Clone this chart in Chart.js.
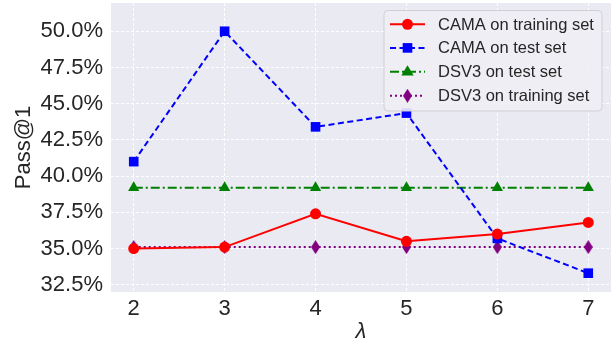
<!DOCTYPE html>
<html>
<head>
<meta charset="utf-8">
<script src="https://cdn.jsdelivr.net/npm/chart.js@4.4.1/dist/chart.umd.min.js"></script>
<style>
  html, body { margin: 0; padding: 0; background: #ffffff; }
  #wrap { width: 613px; height: 346px; position: relative; }
</style>
</head>
<body>
<div id="wrap"><canvas id="c" width="613" height="346"></canvas></div>
<script>
const categories = [2, 3, 4, 5, 6, 7];
const camaTrain = [35.0, 35.1, 37.4, 35.5, 36.0, 36.8];
const camaTest  = [41.0, 50.0, 43.4, 44.35, 35.7, 33.3];
const dsv3Test  = [39.2, 39.2, 39.2, 39.2, 39.2, 39.2];
const dsv3Train = [35.1, 35.1, 35.1, 35.1, 35.1, 35.1];
const yTicks = [32.5, 35.0, 37.5, 40.0, 42.5, 45.0, 47.5, 50.0];
const seriesNames = ['CAMA on training set', 'CAMA on test set', 'DSV3 on test set', 'DSV3 on training set'];

const FONT = "'Liberation Sans', Arial, sans-serif";
const TXT = '#262626';

function thinDiamond(color, w, h) {
  const c = document.createElement('canvas');
  c.width = w; c.height = h;
  const g = c.getContext('2d');
  g.fillStyle = color;
  g.beginPath();
  g.moveTo(w / 2, 0);
  g.lineTo(w, h / 2);
  g.lineTo(w / 2, h);
  g.lineTo(0, h / 2);
  g.closePath();
  g.fill();
  return c;
}
const diamond = thinDiamond('#800080', 9, 14);

function pts(arr) { return categories.map((x, i) => ({ x: x, y: arr[i] })); }

const datasets = [
  { label: seriesNames[0], data: pts(camaTrain), borderColor: '#ff0000', backgroundColor: '#ff0000',
    borderWidth: 2, pointStyle: 'circle', pointRadius: 5.5, borderDash: [] },
  { label: seriesNames[1], data: pts(camaTest), borderColor: '#0000ff', backgroundColor: '#0000ff',
    borderWidth: 2, pointStyle: 'rect', pointRadius: 6.8, borderDash: [6, 3.5] },
  { label: seriesNames[2], data: pts(dsv3Test), borderColor: '#008000', backgroundColor: '#008000',
    borderWidth: 2, pointStyle: 'triangle', pointRadius: 6.5, borderDash: [9, 3, 2, 3] },
  { label: seriesNames[3], data: pts(dsv3Train), borderColor: '#800080', backgroundColor: '#800080',
    borderWidth: 2, pointStyle: diamond, pointRadius: 6, borderDash: [2, 3] }
];
datasets.forEach(d => { d.fill = false; d.tension = 0; d.pointBorderWidth = 0; d.pointHoverRadius = d.pointRadius; d.clip = 8; });

const bgPlugin = {
  id: 'bg',
  beforeDraw(chart) {
    const { ctx, chartArea: a } = chart;
    ctx.save();
    ctx.fillStyle = '#eaeaf2';
    ctx.fillRect(a.left, a.top, a.right - a.left, a.bottom - a.top);
    ctx.restore();
  }
};

function drawMarker(ctx, ds, x, y) {
  ctx.save();
  ctx.fillStyle = ds.backgroundColor;
  const r = ds.pointRadius;
  if (ds.pointStyle === 'circle') {
    ctx.beginPath(); ctx.arc(x, y, r, 0, Math.PI * 2); ctx.fill();
  } else if (ds.pointStyle === 'rect') {
    const s = r * Math.SQRT2 * 0.5;
    ctx.fillRect(x - s, y - s, 2 * s, 2 * s);
  } else if (ds.pointStyle === 'triangle') {
    ctx.beginPath();
    ctx.moveTo(x, y - r);
    ctx.lineTo(x + r * 0.95, y + r * 0.6);
    ctx.lineTo(x - r * 0.95, y + r * 0.6);
    ctx.closePath(); ctx.fill();
  } else {
    ctx.drawImage(ds.pointStyle, x - ds.pointStyle.width / 2, y - ds.pointStyle.height / 2);
  }
  ctx.restore();
}

const legendPlugin = {
  id: 'mylegend',
  afterDraw(chart) {
    const ctx = chart.ctx;
    const bx = 384, by = 10.5, bw = 218, bh = 100.5, rad = 4;
    ctx.save();
    ctx.beginPath();
    ctx.moveTo(bx + rad, by);
    ctx.arcTo(bx + bw, by, bx + bw, by + bh, rad);
    ctx.arcTo(bx + bw, by + bh, bx, by + bh, rad);
    ctx.arcTo(bx, by + bh, bx, by, rad);
    ctx.arcTo(bx, by, bx + bw, by, rad);
    ctx.closePath();
    ctx.fillStyle = 'rgba(238,238,244,0.9)';
    ctx.fill();
    ctx.strokeStyle = '#cfcfd4';
    ctx.lineWidth = 1;
    ctx.stroke();
    const rows = [24.3, 47.9, 71.7, 95.8];
    chart.data.datasets.forEach((ds, i) => {
      const y = rows[i];
      ctx.save();
      ctx.strokeStyle = ds.borderColor;
      ctx.lineWidth = ds.borderWidth;
      ctx.setLineDash(ds.borderDash);
      ctx.beginPath(); ctx.moveTo(390, y); ctx.lineTo(425, y); ctx.stroke();
      ctx.restore();
      drawMarker(ctx, ds, 407.5, y);
      ctx.fillStyle = TXT;
      ctx.font = "16.5px " + FONT;
      ctx.textBaseline = 'middle';
      ctx.textAlign = 'left';
      ctx.fillText(ds.label, 438, y + 1);
    });
    ctx.restore();
  }
};

new Chart(document.getElementById('c'), {
  type: 'line',
  data: { datasets: datasets },
  plugins: [bgPlugin, legendPlugin],
  options: {
    responsive: false,
    animation: false,
    layout: { autoPadding: false, padding: { top: 3, right: 2, left: 0, bottom: 0 } },
    plugins: { legend: { display: false }, tooltip: { enabled: false } },
    scales: {
      x: {
        type: 'linear', min: 1.75, max: 7.25,
        afterBuildTicks(s) { s.ticks = categories.map(v => ({ value: v })); },
        afterFit(s) { s.height = 54; s.paddingLeft = 0; s.paddingRight = 0; },
        grid: { color: '#ffffff', lineWidth: 1, drawTicks: false },
        border: { display: false, dash: [3, 2] },
        ticks: { color: TXT, font: { family: FONT, size: 22 }, padding: 4, callback: v => String(v) },
        title: { display: true, text: 'λ', color: TXT, font: { family: FONT, size: 22, style: 'italic' }, padding: { top: 0, bottom: 1 } }
      },
      y: {
        min: 32.0, max: 51.95,
        afterBuildTicks(s) { s.ticks = yTicks.map(v => ({ value: v })); },
        afterFit(s) { s.width = 111; s.paddingTop = 0; s.paddingBottom = 0; },
        grid: { color: '#ffffff', lineWidth: 1, drawTicks: false },
        border: { display: false, dash: [3, 2] },
        ticks: { color: TXT, font: { family: FONT, size: 22 }, padding: 8, callback: v => v.toFixed(1) + '%' },
        title: { display: true, text: 'Pass@1', color: TXT, font: { family: FONT, size: 22 }, padding: { top: 11, bottom: 0 } }
      }
    }
  }
});
</script>
</body>
</html>
